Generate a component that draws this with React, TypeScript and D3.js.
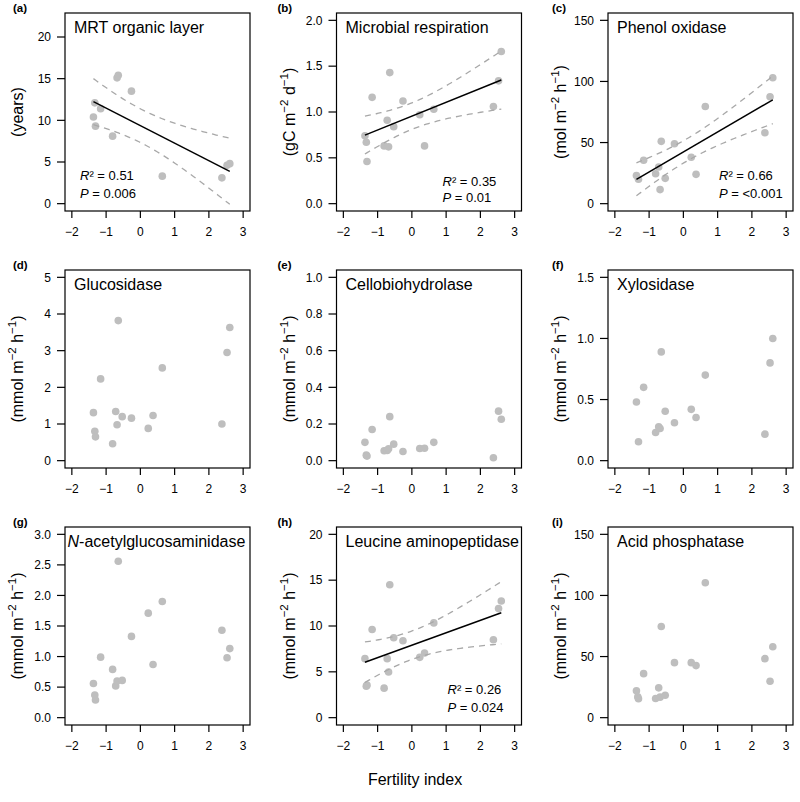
import React from "react";
import * as d3 from "d3";

// ---- data ----
const fertilityIndex = [-1.37, -1.33, -1.31, -1.16, -0.81, -0.72, -0.68, -0.645, -0.53, -0.26, 0.23, 0.37, 0.64, 2.38, 2.53, 2.61];

const mrtOrganic = [10.4, 12.1, 9.3, 11.4, 8.1, null, 15.1, 15.4, null, 13.5, null, null, 3.3, 3.1, 4.6, 4.8];
const microbialRespiration = [0.74, 0.67, 0.46, 1.16, 0.63, 0.91, 0.62, 1.43, 0.84, 1.12, 0.97, 0.63, 1.03, 1.06, 1.34, 1.66];
const phenolOxidase = [23, null, 20, 35.5, 24.5, 30, 11.5, 51, 20.7, 49, 38, 24, 79.5, 58, 87.5, 103];
const glucosidase = [1.31, 0.8, 0.65, 2.23, 0.46, 1.34, 0.98, 3.82, 1.2, 1.16, 0.88, 1.23, 2.53, 1.0, 2.95, 3.63];
const cellobiohydrolase = [0.1, 0.03, 0.025, 0.17, 0.054, 0.056, 0.065, 0.24, 0.09, 0.05, 0.066, 0.068, 0.1, 0.016, 0.27, 0.226];
const xylosidase = [0.48, null, 0.155, 0.6, 0.23, 0.277, 0.263, 0.89, 0.404, 0.31, 0.42, 0.353, 0.7, 0.217, 0.8, 1.0];
const nAcetylglucosaminidase = [0.56, 0.37, 0.29, 0.99, 0.79, 0.52, 0.6, 2.56, 0.61, 1.33, 1.71, 0.87, 1.9, 1.43, 0.98, 1.13];
const leucineAminopeptidase = [6.44, 3.44, 3.55, 9.62, 3.22, 6.44, 4.99, 14.5, 8.72, 8.39, 6.58, 7.05, 10.34, 8.5, 11.9, 12.73];
const acidPhosphatase = [22, 17, 15.5, 36, 15.7, 24.4, 16.8, 74.6, 18.4, 45, 45, 42.6, 110.4, 48.3, 29.8, 58];

const seriesValues = [mrtOrganic, microbialRespiration, phenolOxidase, glucosidase, cellobiohydrolase, xylosidase, nAcetylglucosaminidase, leucineAminopeptidase, acidPhosphatase];

const panelLetters = ["(a)", "(b)", "(c)", "(d)", "(e)", "(f)", "(g)", "(h)", "(i)"];
const panelTitles = ["MRT organic layer", "Microbial respiration", "Phenol oxidase", "Glucosidase", "Cellobiohydrolase", "Xylosidase", "N-acetylglucosaminidase", "Leucine aminopeptidase", "Acid phosphatase"];
const unitKeys = ["years", "gC", "mol", "mmol", "mmol", "mmol", "mmol", "mmol", "mmol"];
const yLimTop = [22, 2, 150, 5, 1, 1.5, 3, 20, 150];
const yTickMax = [20, 2, 150, 5, 1, 1.5, 3, 20, 150];
const yTickStep = [5, 0.5, 50, 1, 0.2, 0.5, 0.5, 5, 50];
const yTickDecimals = [0, 1, 0, 0, 1, 1, 1, 0, 0];
const showFit = [true, true, true, false, false, false, false, true, false];
const r2Text = ["0.51", "0.35", "0.66", "", "", "", "", "0.26", ""];
const pText = ["0.006", "0.01", "<0.001", "", "", "", "", "0.024", ""];
const xTicks = [-2, -1, 0, 1, 2, 3];
const xLabel = "Fertility index";

// t quantiles (0.975) by degrees of freedom
const T975: Record<number, number> = { 8: 2.306, 9: 2.262, 10: 2.228, 11: 2.201, 12: 2.179, 13: 2.16, 14: 2.145, 15: 2.131, 16: 2.12 };

// ---- layout ----
const FONT = "Liberation Sans, Arial, Helvetica, sans-serif";
const colLeft = [65, 336.5, 608];
const rowTop = [13, 270, 527];
const BOX_W = 185;
const BOX_H = 198;
const POINT_COLOR = "#bebebe";
const BAND_COLOR = "#a8a8a8";

function unitLabel(key: string) {
  const sup = (s: string) => (
    <tspan dy={-7} fontSize={11.5}>{s}</tspan>
  );
  if (key === "years") return <>(years)</>;
  const first = key === "gC" ? "(gC m" : key === "mol" ? "(mol m" : "(mmol m";
  const second = key === "gC" ? " d" : " h";
  return (
    <>
      {first}
      {sup("\u22122")}
      <tspan dy={7}>{second}</tspan>
      {sup("\u22121")}
      <tspan dy={7}>)</tspan>
    </>
  );
}

function fit(xs: number[], ys: number[]) {
  const n = xs.length;
  const mx = d3.mean(xs)!;
  const my = d3.mean(ys)!;
  let sxx = 0, sxy = 0, syy = 0;
  for (let i = 0; i < n; i++) {
    sxx += (xs[i] - mx) ** 2;
    sxy += (xs[i] - mx) * (ys[i] - my);
    syy += (ys[i] - my) ** 2;
  }
  const b = sxy / sxx;
  const a = my - b * mx;
  const s = Math.sqrt((syy - b * sxy) / (n - 2));
  const t = T975[n - 2] ?? 2.1;
  const [x0, x1] = d3.extent(xs) as [number, number];
  const grid = d3.range(0, 61).map((i) => x0 + ((x1 - x0) * i) / 60);
  const band = grid.map((x) => {
    const yhat = a + b * x;
    const se = s * Math.sqrt(1 / n + (x - mx) ** 2 / sxx);
    return { x, yhat, lo: yhat - t * se, hi: yhat + t * se };
  });
  return { a, b, x0, x1, band };
}

function Panel({ idx }: { idx: number }) {
  const col = idx % 3;
  const row = Math.floor(idx / 3);
  const left = colLeft[col];
  const top = rowTop[row];
  const right = left + BOX_W;
  const bottom = top + BOX_H;
  const yTop = yLimTop[idx];
  const x = d3.scaleLinear().domain([-2.2, 3.2]).range([left, right]);
  const y = d3.scaleLinear().domain([-0.04 * yTop, 1.04 * yTop]).range([bottom, top]);
  const vals = seriesValues[idx];
  const pts = fertilityIndex
    .map((fx, i) => ({ fx, v: vals[i] }))
    .filter((p) => p.v !== null && p.v !== undefined) as { fx: number; v: number }[];
  const yTicks = d3.range(0, yTickMax[idx] + yTickStep[idx] / 2, yTickStep[idx]);
  const fmt = (v: number) => v.toFixed(yTickDecimals[idx]);
  const minus = (v: number) => (v < 0 ? "\u2212" + Math.abs(v) : String(v));

  let fitEls = null;
  if (showFit[idx]) {
    const f = fit(pts.map((p) => p.fx), pts.map((p) => p.v));
    const hiLine = d3.line<any>().x((d) => x(d.x)).y((d) => y(d.hi));
    const loLine = d3.line<any>().x((d) => x(d.x)).y((d) => y(d.lo));
    fitEls = (
      <g>
        <path d={hiLine(f.band)!} fill="none" stroke={BAND_COLOR} strokeWidth={1.3} strokeDasharray="6 5" />
        <path d={loLine(f.band)!} fill="none" stroke={BAND_COLOR} strokeWidth={1.3} strokeDasharray="6 5" />
        <line x1={x(f.x0)} y1={y(f.a + f.b * f.x0)} x2={x(f.x1)} y2={y(f.a + f.b * f.x1)} stroke="#000" strokeWidth={1.5} />
      </g>
    );
  }

  // annotation placement
  let annX = 0, annY1 = 0, annY2 = 0;
  if (idx === 0) { annX = left + 15; annY1 = bottom - 31; annY2 = bottom - 13; }
  else if (idx === 1) { annX = right - 79; annY1 = bottom - 25; annY2 = bottom - 9; }
  else { annX = right - 74; annY1 = bottom - 31; annY2 = bottom - 13; }

  const titleX = idx === 6 ? left + 2.5 : left + 9;
  const letterOff = [52, 59, 56][col];

  return (
    <g>
      {/* points */}
      {pts.map((p, i) => (
        <circle key={i} cx={x(p.fx)} cy={y(p.v)} r={3.8} fill={POINT_COLOR} />
      ))}
      {fitEls}
      {/* box */}
      <rect x={left} y={top} width={BOX_W} height={BOX_H} fill="none" stroke="#000" strokeWidth={1.2} />
      {/* x axis ticks */}
      {xTicks.map((t) => (
        <g key={"x" + t}>
          <line x1={x(t)} x2={x(t)} y1={bottom} y2={bottom + 7} stroke="#000" strokeWidth={1.2} />
          <text x={x(t)} y={bottom + 24.5} fontSize={12} textAnchor="middle" fontFamily={FONT}>{minus(t)}</text>
        </g>
      ))}
      {/* y axis ticks */}
      {yTicks.map((t) => (
        <g key={"y" + t}>
          <line x1={left - 8} x2={left} y1={y(t)} y2={y(t)} stroke="#000" strokeWidth={1.2} />
          <text x={left - 14} y={y(t) + 4.3} fontSize={12} textAnchor="end" fontFamily={FONT}>{fmt(t)}</text>
        </g>
      ))}
      {/* y title */}
      <text
        transform={`translate(${left - 42},${(top + bottom) / 2}) rotate(-90)`}
        fontSize={16}
        textAnchor="middle"
        fontFamily={FONT}
      >
        {unitLabel(unitKeys[idx])}
      </text>
      {/* panel title */}
      <text x={titleX} y={top + 19.5} fontSize={16} fontFamily={FONT}>
        {idx === 6 ? (
          <>
            <tspan fontStyle="italic">N</tspan>
            {panelTitles[idx].slice(1)}
          </>
        ) : (
          panelTitles[idx]
        )}
      </text>
      {/* letter */}
      <text x={left - letterOff} y={top - 1} fontSize={11.5} fontWeight="bold" fontFamily={FONT}>{panelLetters[idx]}</text>
      {/* stats */}
      {showFit[idx] && (
        <g fontFamily={FONT} fontSize={13}>
          <text x={annX} y={annY1}>
            <tspan fontStyle="italic">R</tspan>² = {r2Text[idx]}
          </text>
          <text x={annX} y={annY2}>
            <tspan fontStyle="italic">P</tspan> = {pText[idx]}
          </text>
        </g>
      )}
    </g>
  );
}

export default function App() {
  return (
    <svg
      width={800}
      height={802}
      viewBox="0 0 800 802"
      style={{ position: "absolute", left: 0, top: 0, background: "#fff" }}
    >
      <rect x={0} y={0} width={800} height={802} fill="#fff" />
      {d3.range(9).map((i) => (
        <Panel key={i} idx={i} />
      ))}
      <text x={415} y={785} fontSize={16} textAnchor="middle" fontFamily={FONT}>{xLabel}</text>
    </svg>
  );
}
